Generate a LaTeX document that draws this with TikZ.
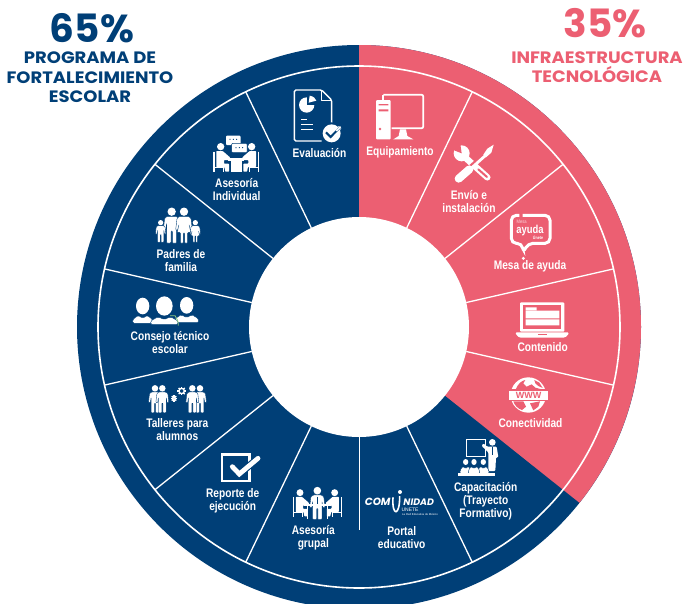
\documentclass[tikz,border=0pt]{standalone}
\usepackage{fontspec}
\setmainfont{Liberation Sans}
\newfontfamily\labfont[FakeStretch=0.82]{Liberation Sans}
\newfontfamily\titfont{Poppins}
\newfontfamily\headfont[FakeStretch=1.09]{Poppins}
\definecolor{navy}{HTML}{003F77}
\definecolor{rosa}{HTML}{EC5F72}
\definecolor{verde}{HTML}{8CC97E}
\tikzset{
  lab/.style={text=white,font=\labfont\bfseries\fontsize{12.4}{13}\selectfont,align=center,inner sep=0pt},
  bigpct/.style={font=\titfont\bfseries\fontsize{39}{39}\selectfont,inner sep=0pt},
  heading/.style={font=\headfont\bfseries\fontsize{16.5}{19.6}\selectfont,align=center,inner sep=0pt},
  zA/.style={shift={(100,70)},scale=1/3},
  zB/.style={shift={(350,70)},scale=1/3},
  zC/.style={shift={(100,340)},scale=1/3},
  zD/.style={shift={(350,340)},scale=1/3},
  spoke/.style={white,line width=1.3},
  ico/.style={white,line width=1,line join=round},
}
% standing figure: head at (#1,#2), scale #3, outline colour #4
\newcommand{\stand}[4]{%
  \begin{scope}[shift={(#1,#2)},scale=#3]
    \fill[white] (0,0) circle (12.5);
    \filldraw[white,draw=#4,line width=.35,rounded corners=.8] (-13,14) -- (13,14) -- (21,20) -- (25,55) -- (18,56) -- (15,34) -- (15,94) -- (2,94) -- (2,58) -- (-2,58) -- (-2,94) -- (-15,94) -- (-15,34) -- (-18,56) -- (-25,55) -- (-21,20) -- cycle;
  \end{scope}}
% standing figure in a dress
\newcommand{\standf}[4]{%
  \begin{scope}[shift={(#1,#2)},scale=#3]
    \fill[white] (0,0) circle (12.5);
    \filldraw[white,draw=#4,line width=.35,rounded corners=.8] (-13,14) -- (13,14) -- (21,20) -- (25,55) -- (19,56) -- (15,38) -- (21,62) -- (11,62) -- (11,94) -- (2,94) -- (2,64) -- (-2,64) -- (-2,94) -- (-11,94) -- (-11,62) -- (-21,62) -- (-15,38) -- (-19,56) -- (-25,55) -- (-21,20) -- cycle;
  \end{scope}}
% seated figure on a chair: head at (#1,#2), #3 = 1 faces right, -1 faces left, #4 scale
\newcommand{\seated}[4]{%
  \begin{scope}[shift={(#1,#2)},xscale=#3*#4,yscale=#4]
    \fill[white] (0,0) circle (11);
    \fill[white,rounded corners=.6] (-13,13) -- (6,13) -- (28,32) -- (28,40) -- (10,40) -- (10,51) -- (25,51) -- (25,75) -- (14,75) -- (11,61) -- (-13,61) -- cycle;
    \draw[white,line width=1] (-21,15) -- (-21,76) (-21,62) -- (8,62) (8,62) -- (8,76);
  \end{scope}}
% bust: head at (#1,#2), head radii #3, #4; half width #5
\newcommand{\bust}[5]{%
  \fill[white] (#1,#2) ellipse [x radius=#3,y radius=#4];
  \filldraw[white,draw=navy,line width=.4,rounded corners=1.5] (#1-#5,#2+#4+27) -- (#1-#5,#2+#4+16) -- (#1-#5*.45,#2+#4+3) -- (#1,#2+#4+12) -- (#1+#5*.45,#2+#4+3) -- (#1+#5,#2+#4+16) -- (#1+#5,#2+#4+27) -- cycle;}
\newcommand{\gearfig}[3]{%
  \draw[white,line width=1.4] (#1,#2) circle (#3);
  \foreach \a in {0,45,...,315} \draw[white,line width=1.3] ({#1+#3*cos(\a)},{#2+#3*sin(\a)}) -- ({#1+(#3+5)*cos(\a)},{#2+(#3+5)*sin(\a)});}
\begin{document}
\begin{tikzpicture}[x=1pt,y=-1pt]
\useasboundingbox (0,0) rectangle (683,603);
\clip (0,0) rectangle (683,603);
\fill[white] (0,0) rectangle (683,603);
% wheel
\fill[navy] (359,327) circle (282);
\fill[rosa] (359,327) -- (359,45) arc[start angle=-90,end angle=38.57,radius=282] -- cycle;
\draw[white,line width=1.6] (359,327) circle (261);
\foreach \a in {64.29,38.57,12.86,-12.86,-64.29,-115.71,-141.43,-167.14,167.14,141.43,115.71}
  \draw[spoke] ({359+110*cos(\a)},{327-110*sin(\a)}) -- ({359+261*cos(\a)},{327-261*sin(\a)});
\draw[white,line width=.4] (359,437) -- (359,530);
\fill[white] (359,327) circle (110);
% headings
\node[bigpct,text=navy] (pctA) at (92,28) {65\%};
\node[heading,text=navy] (headA) at (90,77.5) {PROGRAMA DE\\FORTALECIMIENTO\\ESCOLAR};
\node[bigpct,text=rosa] (pctB) at (605,23) {35\%};
\node[heading,text=rosa] (headB) at (597,67) {INFRAESTRUCTURA\\TECNOLÓGICA};
% labels
\node[lab] (n1) at (319.5,153) {Evaluación};
\node[lab] (n2) at (400,152.7) {Equipamiento};
\node[lab] (n3) at (469,201.5) {Envío e\\instalación};
\node[lab] (n4) at (530,266.7) {Mesa de ayuda};
\node[lab] (n5) at (542.7,347.5) {Contenido};
\node[lab] (n6) at (530.5,423) {Conectividad};
\node[lab] (n7) at (485.7,501) {Capacitación\\(Trayecto\\Formativo)};
\node[lab] (n8) at (401.7,537.5) {Portal\\educativo};
\node[lab] (n9) at (313.3,537.3) {Asesoría\\grupal};
\node[lab] (n10) at (232.7,501) {Reporte de\\ejecución};
\node[lab] (n11) at (177.3,430) {Talleres para\\alumnos};
\node[lab] (n12) at (170,343) {Consejo técnico\\escolar};
\node[lab] (n13) at (181,261) {Padres de\\familia};
\node[lab] (n14) at (236.7,190) {Asesoría\\Individual};
% --- Evaluacion icon
\begin{scope}[zA]
  \draw[ico,line width=1.4,rounded corners=1.5] (695,165) -- (695,90) -- (665,60) -- (583,60) -- (583,213) -- (665,213);
  \draw[ico,line width=.8] (665,60) -- (665,90) -- (695,90);
  \fill[white] (620,105) circle (23);
  \fill[navy] (620,105) -- (620,76) -- (652,76) -- (652,105) -- cycle;
  \fill[white] (626,98) -- (629,77) .. controls (640,79) and (647,85) .. (649,92) -- cycle;
  \draw[ico,line width=1.1] (603,148) -- (620,148) (603,163) -- (640,163) (603,178) -- (640,178);
  \fill[navy] (695,190) circle (33);
  \fill[white] (695,190) circle (27);
  \draw[white,line width=3.6] (678,187) -- (692,201) -- (720,172);
  \draw[navy,line width=2] (678,187) -- (692,201) -- (720,172);
  \draw[white,line width=1.6] (709,183) -- (722,170);
\end{scope}
% --- Asesoria individual icon
\begin{scope}[zA]
  \fill[white,rounded corners=1] (378,197) rectangle (422,225);
  \filldraw[white,draw=navy,line width=.5,rounded corners=1] (395,220) rectangle (441,248);
  \foreach \x in {390,400,410} \fill[navy] (\x,208) circle (1.8);
  \foreach \x in {408,418,428} \fill[navy] (\x,233) circle (1.8);
  \seated{362}{230}{1}{1}
  \seated{455}{230}{-1}{1}
  \fill[white] (385,265) rectangle (431,272);
  \fill[white] (392,272) rectangle (425,305);
  \draw[ico,line width=1] (342,245) -- (342,307) (475,245) -- (475,307);
\end{scope}
% --- Padres de familia icon
\begin{scope}[zA]
  \stand{215}{425}{1}{navy}
  \standf{252}{425}{1}{navy}
  \stand{182}{458}{.63}{navy}
  \standf{286}{458}{.63}{navy}
\end{scope}
% --- Consejo tecnico icon
\begin{scope}[zA]
  \bust{128}{708}{20}{25}{30}
  \bust{260}{706}{20}{25}{36}
  \bust{193}{708}{25}{29}{41}
  \draw[verde,line width=.8] (210,737) -- (225,737) .. controls (232,745) and (235,755) .. (235,767);
\end{scope}
% --- Talleres icon
\begin{scope}[zC]
  \stand{165}{145}{.78}{navy}
  \stand{187}{145}{.78}{navy}
  \stand{300}{145}{.78}{navy}
  \stand{277}{145}{.78}{navy}
  \gearfig{245}{153}{8}
  \gearfig{222}{175}{4.5}
\end{scope}
% --- Reporte icon
\begin{scope}[zC]
  \draw[white,line width=2.4] (366,343) rectangle (449,423);
  \draw[navy,line width=7,line cap=round] (397,380) -- (418,402) -- (474,355);
  \draw[white,line width=4.8,line cap=round] (397,380) -- (418,402) -- (474,355);
\end{scope}
% --- Asesoria grupal icon
\begin{scope}[zC]
  \seated{600}{458}{1}{.95}
  \seated{704}{458}{-1}{.95}
  \stand{652}{452}{.92}{navy}
  \draw[navy,line width=.7] (652,470) -- (652,495);
  \fill[white] (612,492) rectangle (692,497);
  \draw[ico,line width=.8] (622,497) -- (622,537) (682,497) -- (682,537);
\end{scope}
% --- Equipamiento icon
\begin{scope}[zB]
  \draw[white,line width=1.7,rounded corners=2] (100,74) -- (220,74) -- (220,175) -- (125,175);
  \draw[white,line width=1.7] (100,74) -- (100,90);
  \fill[white,rounded corners=1] (78,90) rectangle (122,208);
  \fill[rosa] (86,102) rectangle (115,106) (86,118) rectangle (115,124);
  \fill[rosa] (90,177) circle (4);
  \fill[white] (150,178) -- (168,178) -- (172,198) -- (190,208) -- (130,208) -- (146,198) -- cycle;
\end{scope}
% --- Tools icon
\begin{scope}[zB]
  % wrench
  \fill[white,line cap=round] (335,250) circle (24);
  \fill[rosa] (335,250) -- (305,238) -- (330,215) -- cycle;
  \draw[white,line width=6.4,line cap=round] (345,262) -- (412,322);
  \draw[rosa,line width=2,line cap=round] (385,298) -- (411,321);
  % screwdriver
  \draw[rosa,line width=4] (420,238) -- (345,305);
  \fill[white] (431,224) -- (424,248) -- (408,262) -- (400,254) -- (412,236) -- cycle;
  \draw[white,line width=2.8] (408,255) -- (360,298);
  \draw[white,line width=8,line cap=round] (358,298) -- (326,326);
\end{scope}
% --- Mesa de ayuda icon
\begin{scope}[zB]
  \draw[white,line width=3,rounded corners=5] (508,436) -- (484,436) -- (484,520) -- (516,520) -- (520,548) -- (534,520) -- (600,520) -- (600,436) -- (518,436);
  \fill[white] (520,565) circle (5);
  \node[text=white,opacity=.75,inner sep=0pt,font=\labfont\fontsize{5}{6}\selectfont] (m1) at (515,456) {Mesa};
  \node[text=white,inner sep=0pt,font=\labfont\bfseries\fontsize{11.5}{11.5}\selectfont] (m2) at (540,482) {ayuda};
  \node[text=white,inner sep=0pt,font=\labfont\bfseries\fontsize{4.4}{5}\selectfont] (m3) at (564,503) {Únete};
\end{scope}
% --- Contenido icon
\begin{scope}[zB]
  \fill[white,rounded corners=1] (510,697) rectangle (643,785);
  \fill[rosa] (520,706) rectangle (634,776);
  \fill[white] (527,712) rectangle (560,720) (527,722) rectangle (628,745) (527,748) rectangle (628,766);
  \fill[white,rounded corners=1.5] (495,787) -- (658,787) -- (652,797) -- (645,803) -- (508,803) -- (501,797) -- cycle;
  \fill[rosa] (565,791) rectangle (590,795);
\end{scope}
% --- Conectividad icon
\begin{scope}[zD]
  \fill[white] (535,165) circle (53);
  \fill[rosa] (497,148) .. controls (505,130) and (515,122) .. (526,120) -- (520,130) -- (530,140) -- (545,133) -- (556,143) -- (575,148) -- cycle;
  \fill[rosa] (553,120) -- (568,128) -- (578,144) -- (565,138) -- (556,130) -- cycle;
  \fill[rosa] (490,184) -- (520,184) -- (528,200) -- (516,210) .. controls (503,206) and (494,196) .. (490,184) -- cycle;
  \fill[rosa] (540,190) -- (570,184) -- (565,200) -- (550,211) -- cycle;
  \fill[rosa] (472,146) rectangle (600,184);
  \fill[white] (478,152) rectangle (595,180);
  \node[text=rosa,inner sep=0pt,font=\bfseries\fontsize{9}{9}\selectfont] (w) at (536,166) {WWW};
\end{scope}
% --- Capacitacion icon
\begin{scope}[zD]
  \draw[white,line width=.8] (350,297) rectangle (406,350);
  \fill[white] (427,307) circle (10);
  \fill[white,rounded corners=1] (412,320) -- (440,320) -- (445,352) -- (438,352) -- (436,393) -- (415,393) -- (415,337) -- (395,318) -- (400,310) -- cycle;
  \draw[navy,line width=.6] (426,322) -- (426,345);
  \bust{347}{366}{8}{9}{17}
  \bust{400}{366}{8}{9}{17}
  \bust{372}{366}{8}{9}{17}
  \fill[white] (325,398) rectangle (435,407);
\end{scope}
% --- Comunidad logo
\begin{scope}[zD]
  \node[text=white,inner sep=0pt,font=\titfont\bfseries\itshape\fontsize{10.4}{12}\selectfont] (l1) at (83,484) {COM};
  \node[text=white,inner sep=0pt,font=\titfont\bfseries\itshape\fontsize{9.4}{12}\selectfont] (l2) at (206,486) {NIDAD};
  \draw[white,line width=1.6] (129,472) .. controls (125,530) and (150,530) .. (149,468);
  \fill[white] (150,456) circle (6);
  \node[text=white,inner sep=0pt,font=\fontsize{5}{6}\selectfont] (l3) at (180,509) {UNETE};
  \node[text=white,inner sep=0pt,font=\fontsize{2.8}{3}\selectfont] (l4) at (210,524) {La Red Educativa de México};
\end{scope}
\end{tikzpicture}
\end{document}
